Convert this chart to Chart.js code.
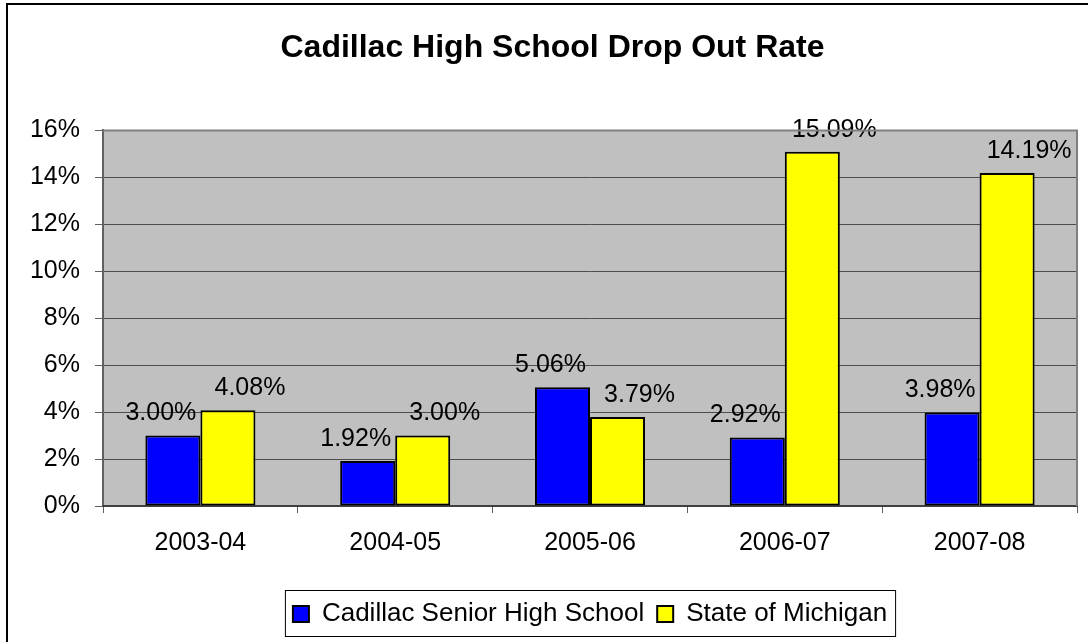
<!DOCTYPE html>
<html>
<head>
<meta charset="utf-8">
<script src="https://cdn.jsdelivr.net/npm/chart.js@4.4.0/dist/chart.umd.min.js"></script>
<style>
    body { margin: 0; background: #fff; }
    #wrap { position: relative; width: 1088px; height: 642px; }
</style>
</head>
<body>
<div id="wrap"><canvas id="dropChart"></canvas></div>
<script>
// Chart data
const years = ['2003-04', '2004-05', '2005-06', '2006-07', '2007-08'];
const cadillacRates = [3.00, 1.92, 5.06, 2.92, 3.98];
const michiganRates = [4.08, 3.00, 3.79, 15.09, 14.19];
const yTicks = [0, 2, 4, 6, 8, 10, 12, 14, 16];

Chart.defaults.font.family = '"Liberation Sans", Arial, sans-serif';
Chart.defaults.color = '#000';

// Gray plot area, outer frame and the boxed legend
const framePlugin = {
    id: 'frame',
    beforeDraw(chart) {
        const { ctx, chartArea } = chart;
        ctx.save();
        ctx.fillStyle = '#c0c0c0';
        ctx.fillRect(chartArea.left, chartArea.top, chartArea.right - chartArea.left, chartArea.bottom - chartArea.top);
        ctx.fillStyle = '#000';
        ctx.fillRect(6, 3, 2, 642);
        ctx.fillRect(6, 3, 1088, 2);
        ctx.restore();
    },
    afterDraw(chart) {
        const { ctx, chartArea, legend } = chart;
        ctx.save();
        ctx.strokeStyle = '#808080';
        ctx.lineWidth = 2;
        ctx.beginPath();
        ctx.moveTo(chartArea.left, chartArea.top);
        ctx.lineTo(chartArea.right, chartArea.top);
        ctx.lineTo(chartArea.right, chartArea.bottom);
        ctx.stroke();

        const boxes = legend.legendHitBoxes;
        if (boxes && boxes.length) {
            const first = boxes[0];
            const last = boxes[boxes.length - 1];
            const left = first.left - 8;
            const right = last.left + last.width + 8;
            ctx.strokeStyle = '#000';
            ctx.lineWidth = 1;
            ctx.strokeRect(left + 0.5, legend.top + 2.5, right - left, legend.bottom - legend.top - 3);
        }
        ctx.restore();
    }
};

// Value labels above each bar
const valueLabels = {
    id: 'valueLabels',
    afterDatasetsDraw(chart) {
        const { ctx } = chart;
        const shift = [-12, 22];
        ctx.save();
        ctx.font = '25px "Liberation Sans", Arial, sans-serif';
        ctx.fillStyle = '#000';
        ctx.textAlign = 'center';
        ctx.textBaseline = 'middle';
        chart.data.datasets.forEach((ds, i) => {
            chart.getDatasetMeta(i).data.forEach((bar, j) => {
                ctx.fillText(ds.data[j].toFixed(2) + '%', bar.x + shift[i], bar.y - 22);
            });
        });
        ctx.restore();
    }
};

new Chart(document.getElementById('dropChart'), {
    type: 'bar',
    data: {
        labels: years,
        datasets: [{
            label: 'Cadillac Senior High School',
            data: cadillacRates,
            backgroundColor: '#0000ff',
            borderColor: '#000',
            borderWidth: 2,
            borderSkipped: false,
            categoryPercentage: 0.565,
            barPercentage: 1.0
        }, {
            label: 'State of Michigan',
            data: michiganRates,
            backgroundColor: '#ffff00',
            borderColor: '#000',
            borderWidth: 2,
            borderSkipped: false,
            categoryPercentage: 0.565,
            barPercentage: 1.0
        }]
    },
    options: {
        responsive: true,
        maintainAspectRatio: false,
        animation: false,
        layout: {
            padding: { top: 0, left: 28, right: 11, bottom: 5 }
        },
        plugins: {
            title: {
                display: true,
                text: 'Cadillac High School Drop Out Rate',
                color: '#000',
                font: { size: 32, weight: 'bold' },
                padding: { top: 29, bottom: 63 }
            },
            legend: {
                position: 'bottom',
                fullSize: false,
                labels: {
                    boxWidth: 16,
                    boxHeight: 16,
                    padding: 13,
                    color: '#000',
                    font: { size: 26 }
                }
            },
            tooltip: { enabled: false }
        },
        scales: {
            y: {
                min: 0,
                max: 16,
                afterBuildTicks: (scale) => {
                    scale.ticks = yTicks.map(v => ({ value: v }));
                },
                afterFit: (scale) => { scale.width = 75; },
                grid: {
                    color: '#4d4d4d',
                    lineWidth: 1,
                    tickLength: 8,
                    tickColor: '#606060'
                },
                border: { color: '#606060', width: 2 },
                ticks: {
                    padding: 15,
                    color: '#000',
                    font: { size: 25 },
                    callback: (v) => v + '%'
                }
            },
            x: {
                afterFit: (scale) => { scale.height = 82; },
                grid: {
                    offset: true,
                    drawOnChartArea: false,
                    tickLength: 7,
                    tickColor: '#606060'
                },
                border: { color: '#404040', width: 2 },
                ticks: {
                    padding: 15,
                    color: '#000',
                    font: { size: 25 }
                }
            }
        }
    },
    plugins: [framePlugin, valueLabels]
});
</script>
</body>
</html>
